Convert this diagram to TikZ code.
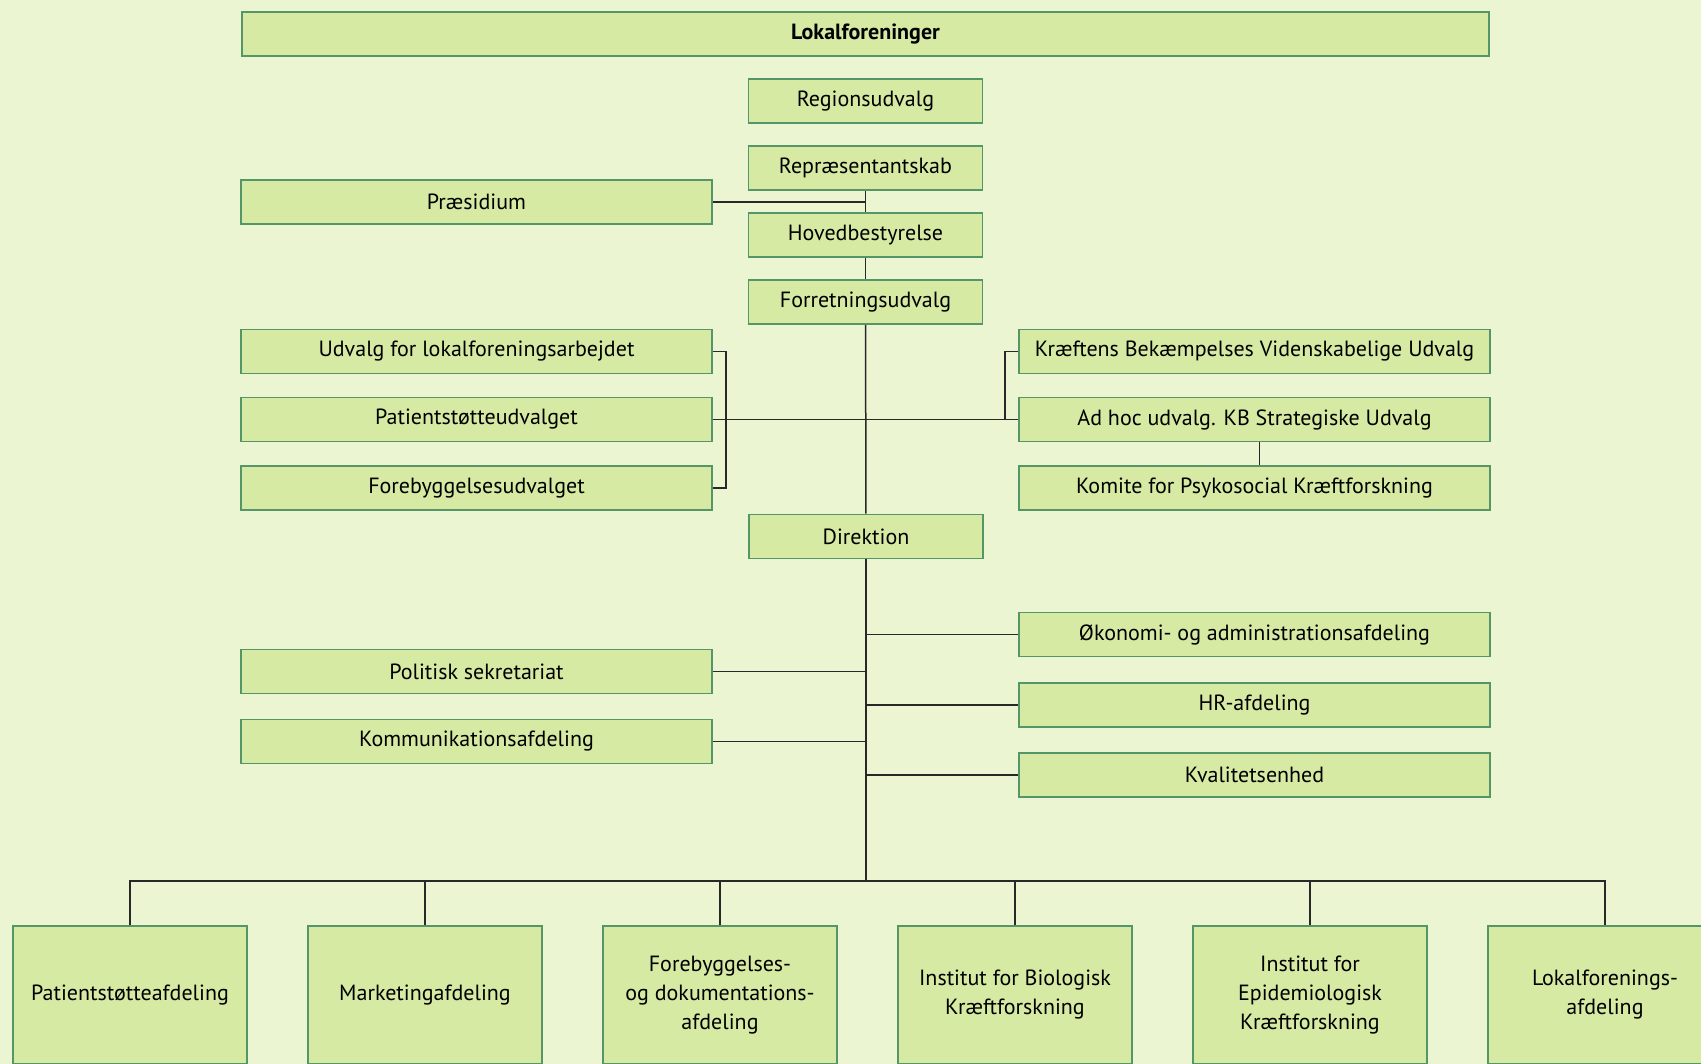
\documentclass[tikz,border=0pt]{standalone}
\usepackage{fontspec}
\setmainfont{PT Sans}
\usetikzlibrary{positioning}
\definecolor{bgcol}{RGB}{235,245,209}
\definecolor{boxfill}{RGB}{214,234,163}
\definecolor{boxline}{RGB}{84,150,104}
\definecolor{linecol}{RGB}{40,40,40}

\begin{document}
\begin{tikzpicture}[x=0.5pt,y=-0.5pt,node distance=10.7pt,
                    every node/.style={font=\fontsize{11}{14.5}\selectfont},
                    box/.style={draw=boxline,fill=boxfill,line width=0.8pt,inner sep=0pt,
                                minimum height=22pt,align=center},
                    mid node/.style={box,minimum width=117pt},
                    side node/.style={box,minimum width=235.5pt},
                    dept node/.style={box,minimum width=117pt,minimum height=69pt},
                    link/.style={draw=linecol,line width=0.75pt}]

  \fill[bgcol] (0,0) rectangle (1701,1064);
  \useasboundingbox (0,0) rectangle (1701,1064);

  % top of the chart
  \node[box,minimum width=623.5pt,font=\fontsize{11}{14.5}\selectfont\bfseries] (lokal) at (865.5,34) {Lokalforeninger};
  \node[mid node] (reg) [below=of lokal] {Regionsudvalg};
  \node[mid node] (rep) [below=of reg] {Repræsentantskab};
  \node[mid node] (hoved) [below=of rep] {Hovedbestyrelse};
  \node[mid node] (forr) [below=of hoved] {Forretningsudvalg};
  \node[side node] (praes) at (476.5,202) {Præsidium};

  % committees
  \node[side node] (ulok) at (476.5,351.5) {Udvalg for lokalforeningsarbejdet};
  \node[side node] (pstu) at (476.5,419.5) {Patientstøtteudvalget};
  \node[side node] (fbu) at (476.5,488) {Forebyggelsesudvalget};
  \node[side node] (kbvu) at (1254.5,351.5) {Kræftens Bekæmpelses Videnskabelige Udvalg};
  \node[side node] (adhoc) at (1254.5,419.5) {Ad hoc udvalg. KB Strategiske Udvalg};
  \node[side node] (kpk) at (1254.5,488) {Komite for Psykosocial Kræftforskning};

  \node[mid node] (dir) at (866,536.5) {Direktion};

  % staff units
  \node[side node] (okon) at (1254.5,634.5) {Økonomi- og administrationsafdeling};
  \node[side node] (hr) at (1254.5,705) {HR-afdeling};
  \node[side node] (kval) at (1254.5,775) {Kvalitetsenhed};
  \node[side node] (pols) at (476.5,671.5) {Politisk sekretariat};
  \node[side node] (komm) at (476.5,741.5) {Kommunikationsafdeling};

  % departments
  \node[dept node] (b1) at (130,995) {Patientstøtteafdeling};
  \node[dept node] (b2) [right=29.7pt of b1] {Marketingafdeling};
  \node[dept node] (b3) [right=29.7pt of b2] {Forebyggelses-\\og dokumentations-\\afdeling};
  \node[dept node] (b4) [right=29.7pt of b3] {Institut for Biologisk\\Kræftforskning};
  \node[dept node] (b5) [right=29.7pt of b4] {Institut for\\Epidemiologisk\\Kræftforskning};
  \node[dept node] (b6) [right=29.7pt of b5] {Lokalforenings-\\afdeling};

  \coordinate (lbr) at (726,0);
  \coordinate (rbr) at (1005,419.5);
  \coordinate (bus) at (866,881);

  \path[link]
    (rep) edge (hoved)
    (hoved) edge (forr)
    (forr) edge (dir)
    (pstu.east) edge (adhoc.west)
    (praes.east) edge (praes.east -| rep.south)
    ([xshift=2.5pt]adhoc.south) edge ([xshift=2.5pt]kpk.north)
    (dir.south) edge (bus);

  \draw[link] (ulok.east) -| (lbr |- fbu.east) -- (fbu.east);
  \draw[link] (kbvu.west) -| (rbr);

  \foreach \n in {okon,hr,kval,pols,komm}
    \draw[link] (\n) -- (\n -| dir.south);

  \draw[link] (b1.north) |- (bus) -| (b6.north);
  \foreach \n in {b2,b3,b4,b5}
    \draw[link] (\n.north) -- (\n.north |- bus);
\end{tikzpicture}
\end{document}
